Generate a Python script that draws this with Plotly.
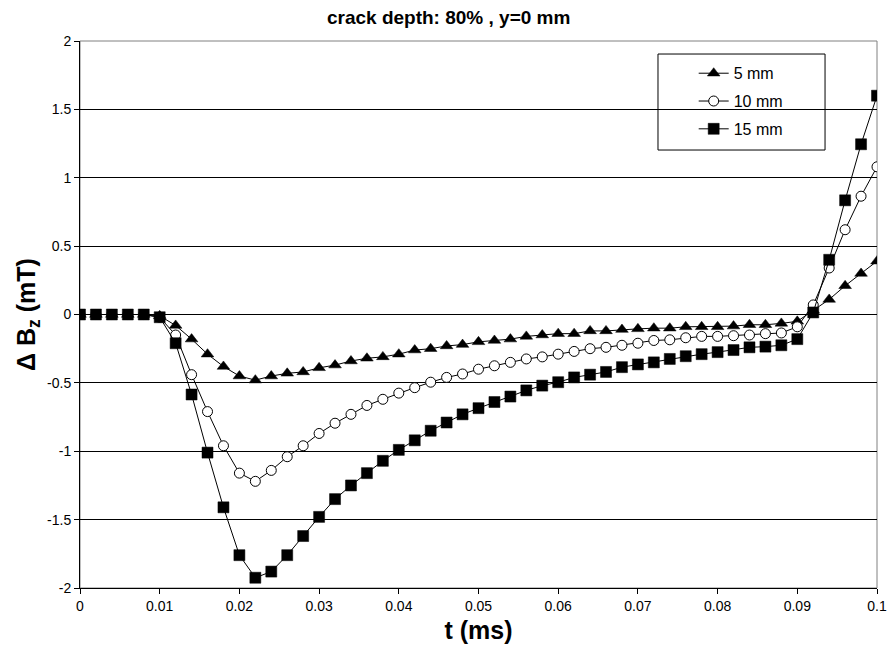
import plotly.graph_objects as go

t = [round(i * 0.002, 3) for i in range(51)]

b5 = [0, 0, 0, 0, 0, -0.01, -0.08, -0.18, -0.29, -0.38, -0.45, -0.48, -0.45, -0.43, -0.42,
      -0.39, -0.37, -0.34, -0.32, -0.31, -0.29, -0.26, -0.25, -0.23, -0.22, -0.20, -0.19,
      -0.18, -0.16, -0.15, -0.14, -0.14, -0.12, -0.12, -0.11, -0.105, -0.10, -0.10, -0.09,
      -0.09, -0.09, -0.085, -0.075, -0.075, -0.065, -0.05, 0.03, 0.11, 0.21, 0.30, 0.39]

b10 = [0, 0, 0, 0, 0, -0.02, -0.15, -0.44, -0.71, -0.96, -1.16, -1.22, -1.14, -1.04, -0.96,
       -0.87, -0.795, -0.73, -0.665, -0.62, -0.575, -0.535, -0.495, -0.46, -0.435, -0.40,
       -0.375, -0.35, -0.325, -0.31, -0.29, -0.27, -0.25, -0.24, -0.225, -0.21, -0.19,
       -0.185, -0.17, -0.16, -0.16, -0.155, -0.15, -0.14, -0.135, -0.09, 0.07, 0.34, 0.62,
       0.865, 1.08]

b15 = [0, 0, 0, 0, 0, -0.02, -0.21, -0.585, -1.01, -1.41, -1.76, -1.925, -1.88, -1.76, -1.62,
       -1.48, -1.35, -1.25, -1.16, -1.07, -0.99, -0.92, -0.85, -0.79, -0.73, -0.685, -0.64,
       -0.60, -0.555, -0.52, -0.495, -0.46, -0.44, -0.42, -0.385, -0.365, -0.35, -0.325,
       -0.305, -0.29, -0.275, -0.26, -0.24, -0.235, -0.225, -0.18, 0.015, 0.40, 0.835,
       1.245, 1.60]

names = ["5 mm", "10 mm", "15 mm"]
x_ticks = [0, 0.01, 0.02, 0.03, 0.04, 0.05, 0.06, 0.07, 0.08, 0.09, 0.1]
x_tick_labels = ["0", "0.01", "0.02", "0.03", "0.04", "0.05", "0.06", "0.07", "0.08", "0.09", "0.1"]
y_ticks = [-2, -1.5, -1, -0.5, 0, 0.5, 1, 1.5, 2]
y_tick_labels = ["-2", "-1.5", "-1", "-0.5", "0", "0.5", "1", "1.5", "2"]

sans = "Liberation Sans, Arial, sans-serif"

fig = go.Figure()
fig.add_trace(go.Scatter(x=t, y=b5, name=names[0], legendgroup="a", mode="lines+markers",
                         line=dict(color="black", width=1),
                         marker=dict(symbol="triangle-up", size=11, color="black",
                                     line=dict(color="black", width=0.5))))
fig.add_trace(go.Scatter(x=t, y=b10, name=names[1], legendgroup="b", mode="lines+markers",
                         line=dict(color="black", width=1),
                         marker=dict(symbol="circle", size=10, color="white",
                                     line=dict(color="black", width=1))))
fig.add_trace(go.Scatter(x=t, y=b15, name=names[2], legendgroup="c", mode="lines+markers",
                         line=dict(color="black", width=1),
                         marker=dict(symbol="square", size=11, color="black",
                                     line=dict(color="black", width=0.5))))

# plot-area border (grey) and legend box
fig.add_shape(type="rect", xref="paper", yref="paper", x0=0, y0=0, x1=1, y1=1,
              line=dict(color="#808080", width=1), layer="below")
fig.add_shape(type="rect", xref="paper", yref="paper", x0=0.7252, y0=0.8007, x1=0.9348, y1=0.9762,
              line=dict(color="black", width=1), fillcolor="white", layer="below")

fig.update_layout(
    width=892, height=659,
    margin=dict(l=80, r=15, t=41, b=71, autoexpand=False),
    paper_bgcolor="white", plot_bgcolor="white",
    title=dict(text="<b>crack depth: 80% , y=0 mm</b>", x=0.503, xanchor="center",
               y=0.973, yanchor="middle",
               font=dict(family=sans, size=19, color="black")),
    showlegend=True,
    legend=dict(x=0.77, y=0.972, xanchor="left", yanchor="top",
                bgcolor="rgba(0,0,0,0)", borderwidth=0,
                font=dict(family=sans, size=16, color="black"),
                tracegroupgap=4),
    xaxis=dict(range=[0, 0.1], tickvals=x_ticks, ticktext=x_tick_labels, automargin=False,
               showgrid=False, zeroline=False, showline=True, linecolor="black",
               linewidth=1, ticks="outside", ticklen=5, tickcolor="black",
               tickfont=dict(family=sans, size=14, color="black"),
               title=dict(text="<b>t (ms)</b>", font=dict(family=sans, size=25, color="black"),
                          standoff=8)),
    yaxis=dict(range=[-2, 2], tickvals=y_ticks, ticktext=y_tick_labels, automargin=False,
               showgrid=True, gridcolor="black", gridwidth=1,
               zeroline=True, zerolinecolor="black", zerolinewidth=1,
               showline=True, linecolor="black", linewidth=1,
               ticks="outside", ticklen=5, tickcolor="black",
               tickfont=dict(family=sans, size=14, color="black"),
               title=dict(text="<b>Δ B<sub>z</sub> (mT)</b>",
                          font=dict(family=sans, size=25, color="black"), standoff=4)),
)

fig.write_html("out.html")
